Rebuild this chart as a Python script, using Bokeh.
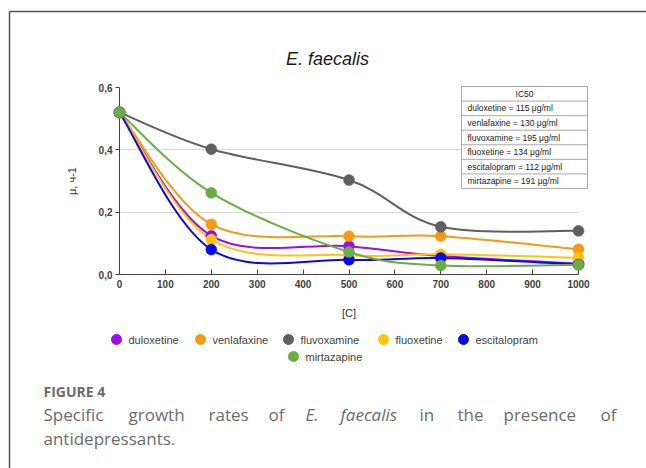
from bokeh.plotting import figure
from bokeh.layouts import column
from bokeh.models import (Range1d, FixedTicker, CustomJSTickFormatter,
                          ColumnDataSource)
from bokeh.core.properties import value
from bokeh.embed import file_html
from bokeh.resources import INLINE

# ---------------- data ----------------
conc = [0, 200, 500, 700, 1000]
series_names = ["duloxetine", "venlafaxine", "fluvoxamine", "fluoxetine",
                "escitalopram", "mirtazapine"]
duloxetine = [0.52, 0.124, 0.091, 0.059, 0.035]
venlafaxine = [0.52, 0.161, 0.123, 0.123, 0.081]
fluvoxamine = [0.52, 0.402, 0.303, 0.153, 0.140]
fluoxetine = [0.52, 0.112, 0.062, 0.065, 0.054]
escitalopram = [0.52, 0.080, 0.047, 0.053, 0.032]
mirtazapine = [0.52, 0.262, 0.072, 0.029, 0.031]
series_values = [duloxetine, venlafaxine, fluvoxamine, fluoxetine,
                 escitalopram, mirtazapine]
series_colors = ["#9a0ee8", "#f59a14", "#5f5f5f", "#ffc20e", "#0a0ae6", "#6aac46"]

x_ticks = [0, 100, 200, 300, 400, 500, 600, 700, 800, 900, 1000]
y_ticks = [0.0, 0.2, 0.4, 0.6]
y_tick_labels = ["0,0", "0,2", "0,4", "0,6"]

ic50_drugs = ["duloxetine", "venlafaxine", "fluvoxamine", "fluoxetine",
              "escitalopram", "mirtazapine"]
ic50_values = [115, 130, 195, 134, 112, 191]

title_text = "E. faecalis"
x_label = "[C]"
y_label = "μ, ч-1"

# ---------------- layout helpers (page pixels -> data) ----------------
W, H = 646, 468
SPLIT = 326          # page y where the legend/caption panel starts
X0, X1 = 119, 578    # page x of conc 0 and 1000
Y0, Y1 = 274, 87     # page y of 0.0 and 0.6


def dx(px):
    return (px - X0) / (X1 - X0) * 1000.0


def dy(py):
    return (Y0 - py) / (Y0 - Y1) * 0.6


p = figure(width=W, height=SPLIT, output_backend="svg", toolbar_location=None,
           x_range=Range1d(0, 1000), y_range=Range1d(0, 0.6),
           min_border_left=X0, min_border_right=W - X1,
           min_border_top=Y1, min_border_bottom=SPLIT - Y0,
           background_fill_color="white", border_fill_color="white")
p.outline_line_color = None
p.xgrid.grid_line_color = None
p.ygrid.grid_line_color = "#d9d9d9"
p.ygrid.grid_line_width = 1

# axes
p.xaxis.ticker = FixedTicker(ticks=x_ticks)
p.xaxis.major_tick_in = 5
p.xaxis.major_tick_out = 0
p.xaxis.minor_tick_line_color = None
p.xaxis.axis_line_color = "#404040"
p.xaxis.major_tick_line_color = "#404040"
p.xaxis.major_label_standoff = 5
p.xaxis.major_label_text_font = "Liberation Sans"
p.xaxis.major_label_text_font_style = "bold"
p.xaxis.major_label_text_font_size = "10px"
p.xaxis.major_label_text_color = "#404040"
p.xaxis.axis_label = x_label
p.xaxis.axis_label_text_font = "Liberation Sans"
p.xaxis.axis_label_text_font_style = "normal"
p.xaxis.axis_label_text_font_size = "11px"
p.xaxis.axis_label_text_color = "#333333"
p.xaxis.axis_label_standoff = 16

p.yaxis.ticker = FixedTicker(ticks=y_ticks)
p.yaxis.formatter = CustomJSTickFormatter(
    args=dict(vals=y_ticks, labs=y_tick_labels),
    code="const i = vals.findIndex(v => Math.abs(v - tick) < 1e-9); return i >= 0 ? labs[i] : '';")
p.yaxis.major_tick_in = 0
p.yaxis.major_tick_out = 4
p.yaxis.minor_tick_line_color = None
p.yaxis.axis_line_color = "#404040"
p.yaxis.major_tick_line_color = "#404040"
p.yaxis.major_label_standoff = 3
p.yaxis.major_label_text_font = "Liberation Sans"
p.yaxis.major_label_text_font_style = "bold"
p.yaxis.major_label_text_font_size = "10px"
p.yaxis.major_label_text_color = "#404040"
p.yaxis.axis_label = y_label
p.yaxis.axis_label_text_font = "Liberation Sans"
p.yaxis.axis_label_text_font_style = "normal"
p.yaxis.axis_label_text_font_size = "11px"
p.yaxis.axis_label_text_color = "#333333"
p.yaxis.axis_label_standoff = 18


# smooth (Excel-like) curves through the points
def bezier_source(xs, ys):
    n = len(xs)
    d = dict(x0=[], y0=[], x1=[], y1=[], cx0=[], cy0=[], cx1=[], cy1=[])
    for i in range(n - 1):
        xa, ya = xs[max(i - 1, 0)], ys[max(i - 1, 0)]
        xb, yb = xs[i], ys[i]
        xc, yc = xs[i + 1], ys[i + 1]
        xd, yd = xs[min(i + 2, n - 1)], ys[min(i + 2, n - 1)]
        d["x0"].append(xb); d["y0"].append(yb)
        d["x1"].append(xc); d["y1"].append(yc)
        d["cx0"].append(xb + (xc - xa) / 6.0); d["cy0"].append(yb + (yc - ya) / 6.0)
        d["cx1"].append(xc - (xd - xb) / 6.0); d["cy1"].append(yc - (yd - yb) / 6.0)
    return ColumnDataSource(d)


for name, vals, col in zip(series_names, series_values, series_colors):
    p.bezier(x0="x0", y0="y0", x1="x1", y1="y1", cx0="cx0", cy0="cy0",
             cx1="cx1", cy1="cy1", source=bezier_source(conc, vals),
             line_color=col, line_width=2)
for name, vals, col in zip(series_names, series_values, series_colors):
    p.scatter(conc, vals, size=11, fill_color=col, line_color=col,
              line_width=0.5, level="overlay")


def txt(fig, xp, yp, s, size, color, font="Liberation Sans", style="normal",
        align="left", mapx=dx, mapy=dy):
    fig.text(x=[mapx(xp)], y=[mapy(yp)], text=[s], text_align=align,
             text_baseline="middle", text_font=value(font),
             text_font_size=value(size), text_font_style=value(style),
             text_color=color, level="overlay")


# title
txt(p, 327, 58, title_text, "18px", "#1a1a1a", style="italic", align="center")

# IC50 table
tl, tr, tt, tb = 461, 587, 86, 188
rh = (tb - tt) / 7.0
p.quad(left=dx(tl), right=dx(tr), top=dy(tt), bottom=dy(tb), fill_color="white",
       line_color="#a8a8a8", line_width=1, level="overlay")
p.segment(x0=[dx(tl)] * 6, x1=[dx(tr)] * 6,
          y0=[dy(tt + rh * k) for k in range(1, 7)],
          y1=[dy(tt + rh * k) for k in range(1, 7)],
          line_color="#a8a8a8", line_width=1, level="overlay")
txt(p, (tl + tr) / 2, tt + rh / 2, "IC50", "8.5px", "#1a1a1a", align="center")
for k, (d, v) in enumerate(zip(ic50_drugs, ic50_values)):
    txt(p, 467, tt + rh * (k + 1.5), f"{d} = {v} μg/ml", "8.5px", "#1a1a1a")

# frame lines (figure panel border), upper part
p.segment(x0=[dx(9), dx(9)], y0=[dy(11), dy(11)], x1=[dx(9), dx(646)],
          y1=[dy(SPLIT + 2), dy(11)], line_color="#555555", line_width=1.5,
          level="overlay")

# ---------------- lower panel: legend + caption (page-pixel ranges) ----------
# its frame is aligned with the upper plot's frame, so page x maps directly
q = figure(width=W, height=H - SPLIT, output_backend="svg", toolbar_location=None,
           x_range=Range1d(X0, X1), y_range=Range1d(H, SPLIT),
           min_border_left=X0, min_border_right=W - X1,
           min_border_top=0, min_border_bottom=0,
           x_axis_location=None, y_axis_location=None,
           background_fill_color="white", border_fill_color="white")
q.outline_line_color = None
q.grid.visible = False


def ident(v):
    return v


# legend (two rows, centred under the plot)
leg_px = [116, 200, 288, 383, 463, 293]
leg_py = [339, 339, 339, 339, 339, 356]
q.scatter(x=leg_px, y=leg_py, size=10, fill_color=series_colors,
          line_color=series_colors, level="overlay")
for name, xp, yp in zip(series_names, leg_px, leg_py):
    txt(q, xp + 12, yp, name, "11px", "#404040", mapx=ident, mapy=ident)

# frame line, lower part
q.segment(x0=[9], y0=[SPLIT - 2], x1=[9], y1=[H], line_color="#555555",
          line_width=1.5, level="overlay")

# caption
cap_color = "#6b6b6b"
txt(q, 43, 391, "FIGURE 4", "14px", cap_color, font="Open Sans", style="bold",
    mapx=ident, mapy=ident)
cap_words = ["Specific", "growth", "rates", "of", "E.", "faecalis", "in", "the",
             "presence", "of"]
cap_x = [43, 128, 208, 268, 305, 340, 419, 457, 503, 600]
cap_italic = [False, False, False, False, True, True, False, False, False, False]
for w, xp, it in zip(cap_words, cap_x, cap_italic):
    txt(q, xp, 414, w, "17px", cap_color, font="Open Sans",
        style="italic" if it else "normal", mapx=ident, mapy=ident)
txt(q, 43, 438, "antidepressants.", "17px", cap_color, font="Open Sans",
    mapx=ident, mapy=ident)

layout = column(p, q, spacing=0)
open("out.html", "w").write(file_html(layout, INLINE))
